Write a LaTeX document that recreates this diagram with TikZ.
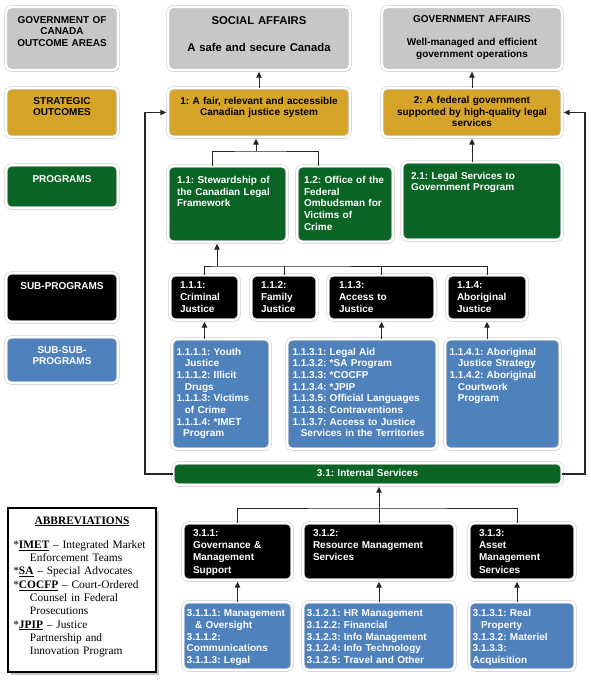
\documentclass[tikz,border=0pt]{standalone}
\usepackage{fontspec}
\setmainfont{Liberation Serif}
\setsansfont{Liberation Sans}
\usetikzlibrary{arrows.meta, shadows}
\definecolor{areagray}{RGB}{199,199,199}
\definecolor{goalgold}{RGB}{214,164,40}
\definecolor{proggreen}{RGB}{10,100,36}
\definecolor{subblue}{RGB}{79,129,189}
\frenchspacing

\begin{document}
\begin{tikzpicture}[x=1pt,y=-1pt,
    box/.style={rounded corners=5pt,draw=black!22,line width=.5pt,double=white,double distance=2.4pt,outer sep=0pt,anchor=north west,text height=7.5pt,align=left,font=\sffamily\bfseries\fontsize{10}{11.7}\selectfont,drop shadow={shadow xshift=1.2pt,shadow yshift=-1.5pt,opacity=.25}},
    tier/.style={box,align=center,inner xsep=4pt,inner ysep=8.5pt,text width=104pt},
    area/.style={box,fill=areagray,align=center,inner xsep=4pt},
    goal/.style={box,fill=goalgold,align=center,inner xsep=4pt},
    prog/.style={box,fill=proggreen,text=white,inner xsep=9pt,inner ysep=9.8pt},
    subprog/.style={box,fill=black,text=white,inner xsep=10pt,inner ysep=6pt,font=\sffamily\bfseries\fontsize{10}{12.2}\selectfont},
    subsub/.style={box,fill=subblue,text=white,inner xsep=4.5pt,inner ysep=8.5pt},
    note/.style={draw=black,line width=2.5pt,fill=white,anchor=north west,outer sep=0pt,inner xsep=5.3pt,inner ysep=8pt,text height=8pt,align=left,font=\rmfamily\fontsize{11.4}{13.3}\selectfont,drop shadow={shadow xshift=3pt,shadow yshift=-3pt,opacity=.45}},
    conn/.style={draw=black!85,line width=.8pt},
    uparrow/.style={conn,line width=1pt,-{Triangle[length=6pt,width=5.5pt]},shorten >=1.7pt}]
    \useasboundingbox (0,0) rectangle (590,686);

    \node (tgoc) [tier,fill=areagray,text depth=38.5pt] at (6,7) {GOVERNMENT OF\\CANADA\\OUTCOME AREAS};
    \node (tso) [tier,fill=goalgold,text depth=24.5pt] at (6,88) {STRATEGIC\\OUTCOMES};
    \node (tprog) [tier,fill=proggreen,text=white,inner ysep=9.8pt,text depth=15.9pt] at (6,165) {PROGRAMS};
    \node (tsub) [tier,fill=black,text=white,text depth=24.5pt] at (6,273) {SUB-PROGRAMS};
    \node (tss) [tier,fill=subblue,text=white,text depth=21.5pt] at (6,337) {SUB-SUB-\\PROGRAMS};

    \node (soc) [area,inner ysep=10pt,text width=174pt,text depth=35.5pt,font=\sffamily\bfseries\fontsize{11.3}{13.5}\selectfont] at (168,7) {SOCIAL AFFAIRS\\[13pt]A safe and secure Canada};
    \node (gov) [area,inner ysep=8.2pt,text width=172pt,text depth=39.1pt] at (382,7) {GOVERNMENT AFFAIRS\\[11.5pt]Well-managed and efficient\\government operations};
    \node (so1) [goal,inner ysep=8.5pt,text width=174pt,text depth=24.5pt] at (168,88) {1: A fair, relevant and accessible\\Canadian justice system};
    \node (so2) [goal,inner ysep=7.8pt,text width=172pt,text depth=25.9pt] at (382,88) {2: A federal government\\supported by high-quality legal\\services};

    \node (p11) [prog,text width=101pt,text depth=48.9pt] at (168,166) {1.1: Stewardship of\\the Canadian Legal\\Framework};
    \node (p12) [prog,inner xsep=7pt,text width=82pt,text depth=48.9pt] at (297,166) {1.2: Office of the\\Federal\\Ombudsman for\\Victims of\\Crime};
    \node (p21) [prog,inner ysep=9.5pt,text width=142pt,text depth=51.5pt] at (402,162) {2.1: Legal Services to\\Government Program};

    \node (s111) [subprog,text width=49pt,text depth=25.5pt] at (170,275) {1.1.1:\\Criminal\\Justice};
    \node (s112) [subprog,text width=46pt,text depth=25.5pt] at (251,275) {1.1.2:\\Family\\Justice};
    \node (s113) [subprog,inner xsep=11pt,text width=85pt,text depth=25.5pt] at (328,275) {1.1.3:\\Access to\\Justice};
    \node (s114) [subprog,text width=60pt,text depth=25.5pt] at (447,275) {1.1.4:\\Aboriginal\\Justice};

    \node (ss111) [subsub,text width=89pt,text depth=85.5pt] at (172,339) {1.1.1.1: Youth\\\hspace*{8.3pt}Justice\\1.1.1.2: Illicit\\\hspace*{8.3pt}Drugs\\1.1.1.3: Victims\\\hspace*{8.3pt}of Crime\\1.1.1.4: *IMET\\\hspace*{6.7pt}Program};
    \node (ss113) [subsub,inner xsep=5.5pt,text width=139pt,text depth=85.5pt] at (287,339) {1.1.3.1: Legal Aid\\1.1.3.2: *SA Program\\1.1.3.3: *COCFP\\1.1.3.4: *JPIP\\1.1.3.5: Official Languages\\1.1.3.6: Contraventions\\1.1.3.7: Access to Justice\\\hspace*{8.3pt}Services in the Territories};
    \node (ss114) [subsub,text width=106pt,text depth=85.5pt] at (445,339) {1.1.4.1: Aboriginal\\\hspace*{8.3pt}Justice Strategy\\1.1.4.2: Aboriginal\\\hspace*{8.3pt}Courtwork\\\hspace*{8.3pt}Program};

    \node (is) [prog,align=center,inner xsep=4pt,inner ysep=6.25pt,text width=381pt,text depth=2pt] at (173,463) {3.1: Internal Services};

    \node (s311) [subprog,text width=89pt,text depth=37.5pt] at (183,523) {3.1.1:\\Governance \&\\Management\\Support};
    \node (s312) [subprog,text width=132pt,text depth=37.5pt] at (303,523) {3.1.2:\\Resource Management\\Services};
    \node (s313) [subprog,text width=86pt,text depth=37.5pt] at (469,523) {3.1.3:\\Asset\\Management\\Services};

    \node (ss311) [subsub,inner xsep=3.7pt,inner ysep=7.2pt,text width=101.6pt,text depth=46.1pt] at (183,602) {3.1.1.1: Management\\\hspace*{8.3pt}\& Oversight\\3.1.1.2:\\Communications\\3.1.1.3: Legal};
    \node (ss312) [subsub,inner xsep=3.7pt,inner ysep=7.2pt,text width=144.6pt,text depth=46.1pt] at (303,602) {3.1.2.1: HR Management\\3.1.2.2: Financial\\3.1.2.3: Info Management\\3.1.2.4: Info Technology\\3.1.2.5: Travel and Other};
    \node (ss313) [subsub,inner xsep=3.7pt,inner ysep=7.2pt,text width=98.6pt,text depth=46.1pt] at (469,602) {3.1.3.1: Real\\\hspace*{8.3pt}Property\\3.1.3.2: Materiel\\3.1.3.3:\\Acquisition};

    \node (abbr) [note,text width=137.4pt,text depth=140pt] at (8,508) {\makebox[\linewidth]{\underline{\textbf{ABBREVIATIONS}}}\\[11pt]
      {}*\underline{\textbf{IMET}} -- Integrated Market\\\hspace*{16.7pt}Enforcement Teams\\
      {}*\underline{\textbf{SA}} -- Special Advocates\\
      {}*\underline{\textbf{COCFP}} -- Court-Ordered\\\hspace*{16.7pt}Counsel in Federal\\\hspace*{16.7pt}Prosecutions\\
      {}*\underline{\textbf{JPIP}} -- Justice\\\hspace*{16.7pt}Partnership and\\\hspace*{16.7pt}Innovation Program};

    \coordinate (j1) at (256,151);
    \coordinate (j2) at (217,266);
    \coordinate (j3) at (378,508);
    \coordinate (lft) at (145,0);
    \coordinate (rgt) at (585,0);

    \draw[uparrow] (so1.north) -- (soc.south);
    \draw[uparrow] (so2.north) -- (gov.south);
    \draw[conn] ([xshift=-15.5pt]p11.north) |- (j1) -| ([xshift=-27pt]p12.north);
    \draw[uparrow] (j1) -- (j1 |- so1.south);
    \draw[uparrow] (p21.north -| so2.south) -- (so2.south);

    \draw[conn] (s111.north) |- (j2) -| (s114.north);
    \draw[conn] (s112.north) -- (s112.north |- j2);
    \draw[conn] (s113.north) -- (s113.north |- j2);
    \draw[uparrow] (j2) -- (j2 |- p11.south);
    \draw[uparrow] (ss111.north -| s111.south) -- (s111.south);
    \draw[uparrow] (ss113.north -| s113.south) -- (s113.south);
    \draw[uparrow] (ss114.north -| s114.south) -- (s114.south);

    \draw[uparrow,line width=1.2pt] (is.west) -| (lft |- so1.west) -- (so1.west);
    \draw[uparrow,line width=1.2pt] (is.east) -| (rgt |- so2.east) -- (so2.east);

    \draw[conn] (s311.north) |- (j3) -| ([xshift=-5pt]s313.north);
    \draw[uparrow] (s312.north) -- (s312.north |- is.south);
    \draw[uparrow] (ss311.north) -- (s311.south);
    \draw[uparrow] (ss312.north) -- (s312.south);
    \draw[uparrow] ([xshift=-5pt]ss313.north) -- ([xshift=-5pt]s313.south);
\end{tikzpicture}
\end{document}
